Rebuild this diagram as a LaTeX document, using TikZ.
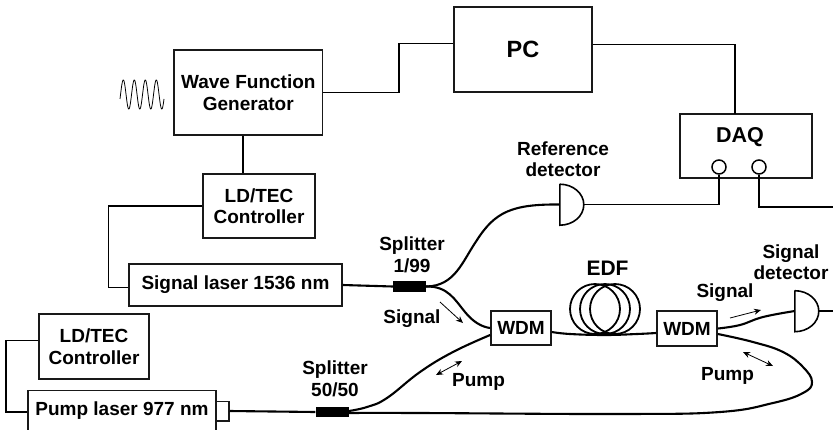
\documentclass[tikz,border=0pt]{standalone}
\usepackage{fontspec}
\setmainfont{Liberation Sans}
\usepackage{tikz}
\usetikzlibrary{arrows.meta}

\begin{document}
\begin{tikzpicture}[x=1pt, y=-1pt]
    % Styles
    \tikzstyle{box} = [rectangle, draw=black!90, line width=1.7pt, inner sep=0pt, align=center, font=\fontsize{19}{21.5}\selectfont\bfseries]
    \tikzstyle{tag} = [inner sep=0pt, align=center, font=\fontsize{19}{21.5}\selectfont\bfseries]
    \tikzstyle{wire} = [line width=1.6pt, black]
    \tikzstyle{fiber} = [line width=2.1pt, black]
    \tikzstyle{sense} = [-{Stealth[length=7pt, width=6pt]}, line width=0.8pt]
    \tikzstyle{sensetwo} = [{Stealth[length=7pt, width=6pt]}-{Stealth[length=7pt, width=6pt]}, line width=0.8pt]
    \tikzstyle{splitter} = [rectangle, fill=black, inner sep=0pt, minimum width=33pt, minimum height=10.5pt]
    \tikzstyle{detector} = [rectangle, inner sep=0pt, minimum width=24pt, minimum height=41pt]
    \tikzstyle{port} = [circle, draw=black, line width=1.5pt, inner sep=0pt, minimum size=14pt]
    \tikzstyle{coil} = [circle, draw=black, line width=1.8pt, inner sep=0pt, minimum size=50pt]

    \useasboundingbox (0,0) rectangle (833,429);

    % Nodes - instruments
    \node[box, minimum width=148.5pt, minimum height=85pt] (wfg) at (248.3,92.5) {Wave Function\\Generator};
    \node[box, minimum width=138pt, minimum height=84.5pt, font=\fontsize{23.5}{26}\selectfont\bfseries] (pc) at (523,49.5) {PC};
    \node[box, minimum width=132pt, minimum height=64pt] (daq) at (746,146) {};
    \node[tag, font=\fontsize{21.5}{24}\selectfont\bfseries] (daqname) at (740,137.5) {DAQ};
    \node[port] (portA) at (719,167) {};
    \node[port] (portB) at (759,167) {};
    \node[box, minimum width=112pt, minimum height=64pt] (ldtecA) at (259,206) {LD/TEC\\Controller};
    \node[box, minimum width=213pt, minimum height=42pt] (siglaser) at (235.5,285) {Signal laser 1536 nm};
    \node[box, minimum width=110pt, minimum height=65pt] (ldtecB) at (94,346.5) {LD/TEC\\Controller};
    \node[box, minimum width=187.5pt, text height=23pt, text depth=24pt, inner ysep=2pt] (pumplaser) at (122,416) {Pump laser 977 nm};
    \node[rectangle, draw=black!90, line width=1.5pt, inner sep=0pt, minimum width=13pt, minimum height=19.5pt] (pumpport) at (222.5,411) {};

    % Nodes - optics
    \node[splitter] (splitA) at (409.5,286.5) {};
    \node[splitter] (splitB) at (332,412) {};
    \node[box, minimum width=60pt, minimum height=34pt] (wdmA) at (521,328) {WDM};
    \node[box, minimum width=60pt, minimum height=35pt] (wdmB) at (687,328.5) {WDM};
    \node[coil] (coilA) at (595,309) {};
    \node[coil] (coilB) at (605,309) {};
    \node[coil] (coilC) at (615,309) {};
    \node[detector] (detR) at (572,204.5) {};
    \node[detector] (detS) at (807,311) {};
    \coordinate (daqout) at (833,207);
    \coordinate (detout) at (833,311);

    % Labels
    \node[tag] (reflabel) at (563,159) {Reference\\detector};
    \node[tag] (sigdetlabel) at (791,262) {Signal\\detector};
    \node[tag] (splitAlabel) at (412,255) {Splitter\\1/99};
    \node[tag] (splitBlabel) at (335,379) {Splitter\\50/50};
    \node[tag, font=\fontsize{21}{24}\selectfont\bfseries] (edflabel) at (607.5,268) {EDF};
    \node[tag] (siglabelA) at (412,319) {Signal};
    \node[tag] (siglabelB) at (725,293) {Signal};
    \node[tag] (pumplabelA) at (478.5,382) {Pump};
    \node[tag] (pumplabelB) at (727.5,376) {Pump};

    % Wires
    \draw[wire] ([xshift=-16pt]ldtecA.north |- wfg.south) -- ([xshift=-16pt]ldtecA.north);
    \draw[wire] (wfg.east) -| (399,43.5) -- (pc.west |- 0,43.5);
    \draw[wire] (pc.east |- 0,44.5) -| (734.7,114);
    \draw[wire] (ldtecA.west) -| (108.5,287.5) -- (siglaser.west |- 0,287.5);
    \draw[wire] ([yshift=6pt]ldtecB.west) -| (6,412) -- (pumplaser.west |- 0,412);
    \draw[wire] (detR.east) -| (portA.south);
    \draw[wire] (portB.south) |- (daqout);
    \draw[wire] (detS.east) -- (detout);

    % Detectors
    \draw[wire] (detR.north west) -- (detR.south west) arc[start angle=-90, end angle=90, x radius=24pt, y radius=20.5pt];
    \draw[wire] (detS.north west) -- (detS.south west) arc[start angle=-90, end angle=90, x radius=24pt, y radius=20.5pt];

    % Fibers
    \draw[fiber] (siglaser.east) -- (splitA.west);
    \draw[fiber] (pumpport.east) -- (splitB.west);
    \draw[fiber] (splitA.east) .. controls (455,286) and (462,262) .. (477,240) .. controls (495,212) and (512,204) .. (detR.west);
    \draw[fiber] (splitA.east) .. controls (448,286) and (455,300) .. (465,312) .. controls (473,322) and (482,327) .. (wdmA.west);
    \draw[fiber] plot[smooth, tension=0.7] coordinates {([yshift=-7pt]wdmA.west) (453,352) (420,372) (387,398) (367,407) ([yshift=1pt]splitB.east)};
    \draw[fiber] plot[smooth, tension=0.7] coordinates {([yshift=-4pt]wdmA.east) (570,334) (605,335) (637,334) ([yshift=-4.5pt]wdmB.west)};
    \draw[fiber] plot[smooth, tension=0.7] coordinates {(wdmB.east) (740,325) (763,317) (detS.west)};
    \draw[fiber] plot[smooth, tension=0.7] coordinates {([yshift=-5.5pt]wdmB.east) (753,342) (783,352) (803,367) (812,382) (803,393) (773,403) (720,412) (620,414) (420,413) ([yshift=-1pt]splitB.east)};

    % Arrows
    \draw[sense] (440,302) -- (463,323);
    \draw[sense] (730,318) -- (761,310);
    \draw[sensetwo] (436,375) -- (462,361);
    \draw[sensetwo] (743,352) -- (773,366);

    % Modulation waveform
    \draw[line width=0.8pt, black] plot[domain=0:44, samples=180, smooth] ({120+\x},{94.5-14.5*sin(360*(\x-0.55)/11)});
\end{tikzpicture}
\end{document}
